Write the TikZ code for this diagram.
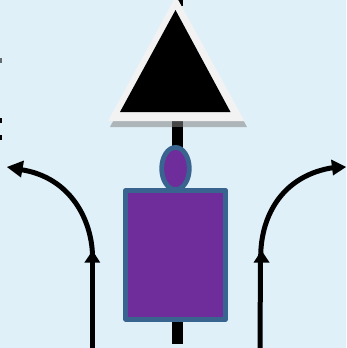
\documentclass[tikz,border=0pt]{standalone}
\definecolor{skybg}{HTML}{DFF0F9}
\definecolor{shadowgray}{HTML}{AEB5B8}
\definecolor{signwhite}{HTML}{F2F2F2}
\definecolor{bodyfill}{HTML}{6F2C9B}
\definecolor{bodyline}{HTML}{3A6490}
\tikzset{
  bodyshape/.style={fill=bodyfill,draw=bodyline,line width=4.8pt,line join=round},
  routeline/.style={draw=black,line width=5pt},
  headshape/.style={fill=black,draw=none},
  speck/.style={fill=black,draw=none}
}
\begin{document}
\begin{tikzpicture}[x=1pt,y=-1pt]
\useasboundingbox (0,0) rectangle (346,348);
\clip (0,0) rectangle (346,348);
\fill[skybg] (0,0) rectangle (346,348);
% clipped marks at the left edge
\fill[speck,opacity=.55] (0,58) rectangle (2,63);
\fill[speck] (0,118) rectangle (2,123);
\fill[speck] (0,135) rectangle (2,140);
% sign shadow
\fill[shadowgray] (110,127) -- (247,127) -- (177,1) -- cycle;
% post
\fill[black] (178,-5) rectangle (183.3,6);
\fill[black] (171.7,100) rectangle (183.3,344);
\fill[black!72] (171.7,121) rectangle (183.3,127);
% sign
\fill[signwhite] (108,121) -- (244.5,121) -- (176,-4) -- cycle;
\fill[black] (120,112) -- (230.5,112) -- (175.5,10) -- cycle;
% figure
\draw[bodyshape] (125.8,190.3) rectangle (225.7,319.3);
\draw[bodyshape] (175.5,168.5) ellipse [x radius=13.8, y radius=21.1];
% left route
\draw[routeline] (92.8,348) -- (92.8,255);
\draw[routeline] (92.5,256) .. controls (92,222) and (72,177) .. (20,169.5);
\fill[headshape] (92.6,250.5) -- (100.2,262.5) -- (84.4,262.5) -- cycle;
\fill[headshape] (7,167) -- (24,160.5) -- (21,177.5) -- cycle;
% right route
\draw[routeline] (260,348) -- (260.5,255);
\draw[routeline] (260.7,256) .. controls (261,215) and (283,175) .. (334,167.5);
\fill[headshape] (261.5,250.5) -- (269.5,262.5) -- (253.5,262.5) -- cycle;
\fill[headshape] (346,167) -- (331,159.5) -- (333,175.5) -- cycle;
\end{tikzpicture}
\end{document}
